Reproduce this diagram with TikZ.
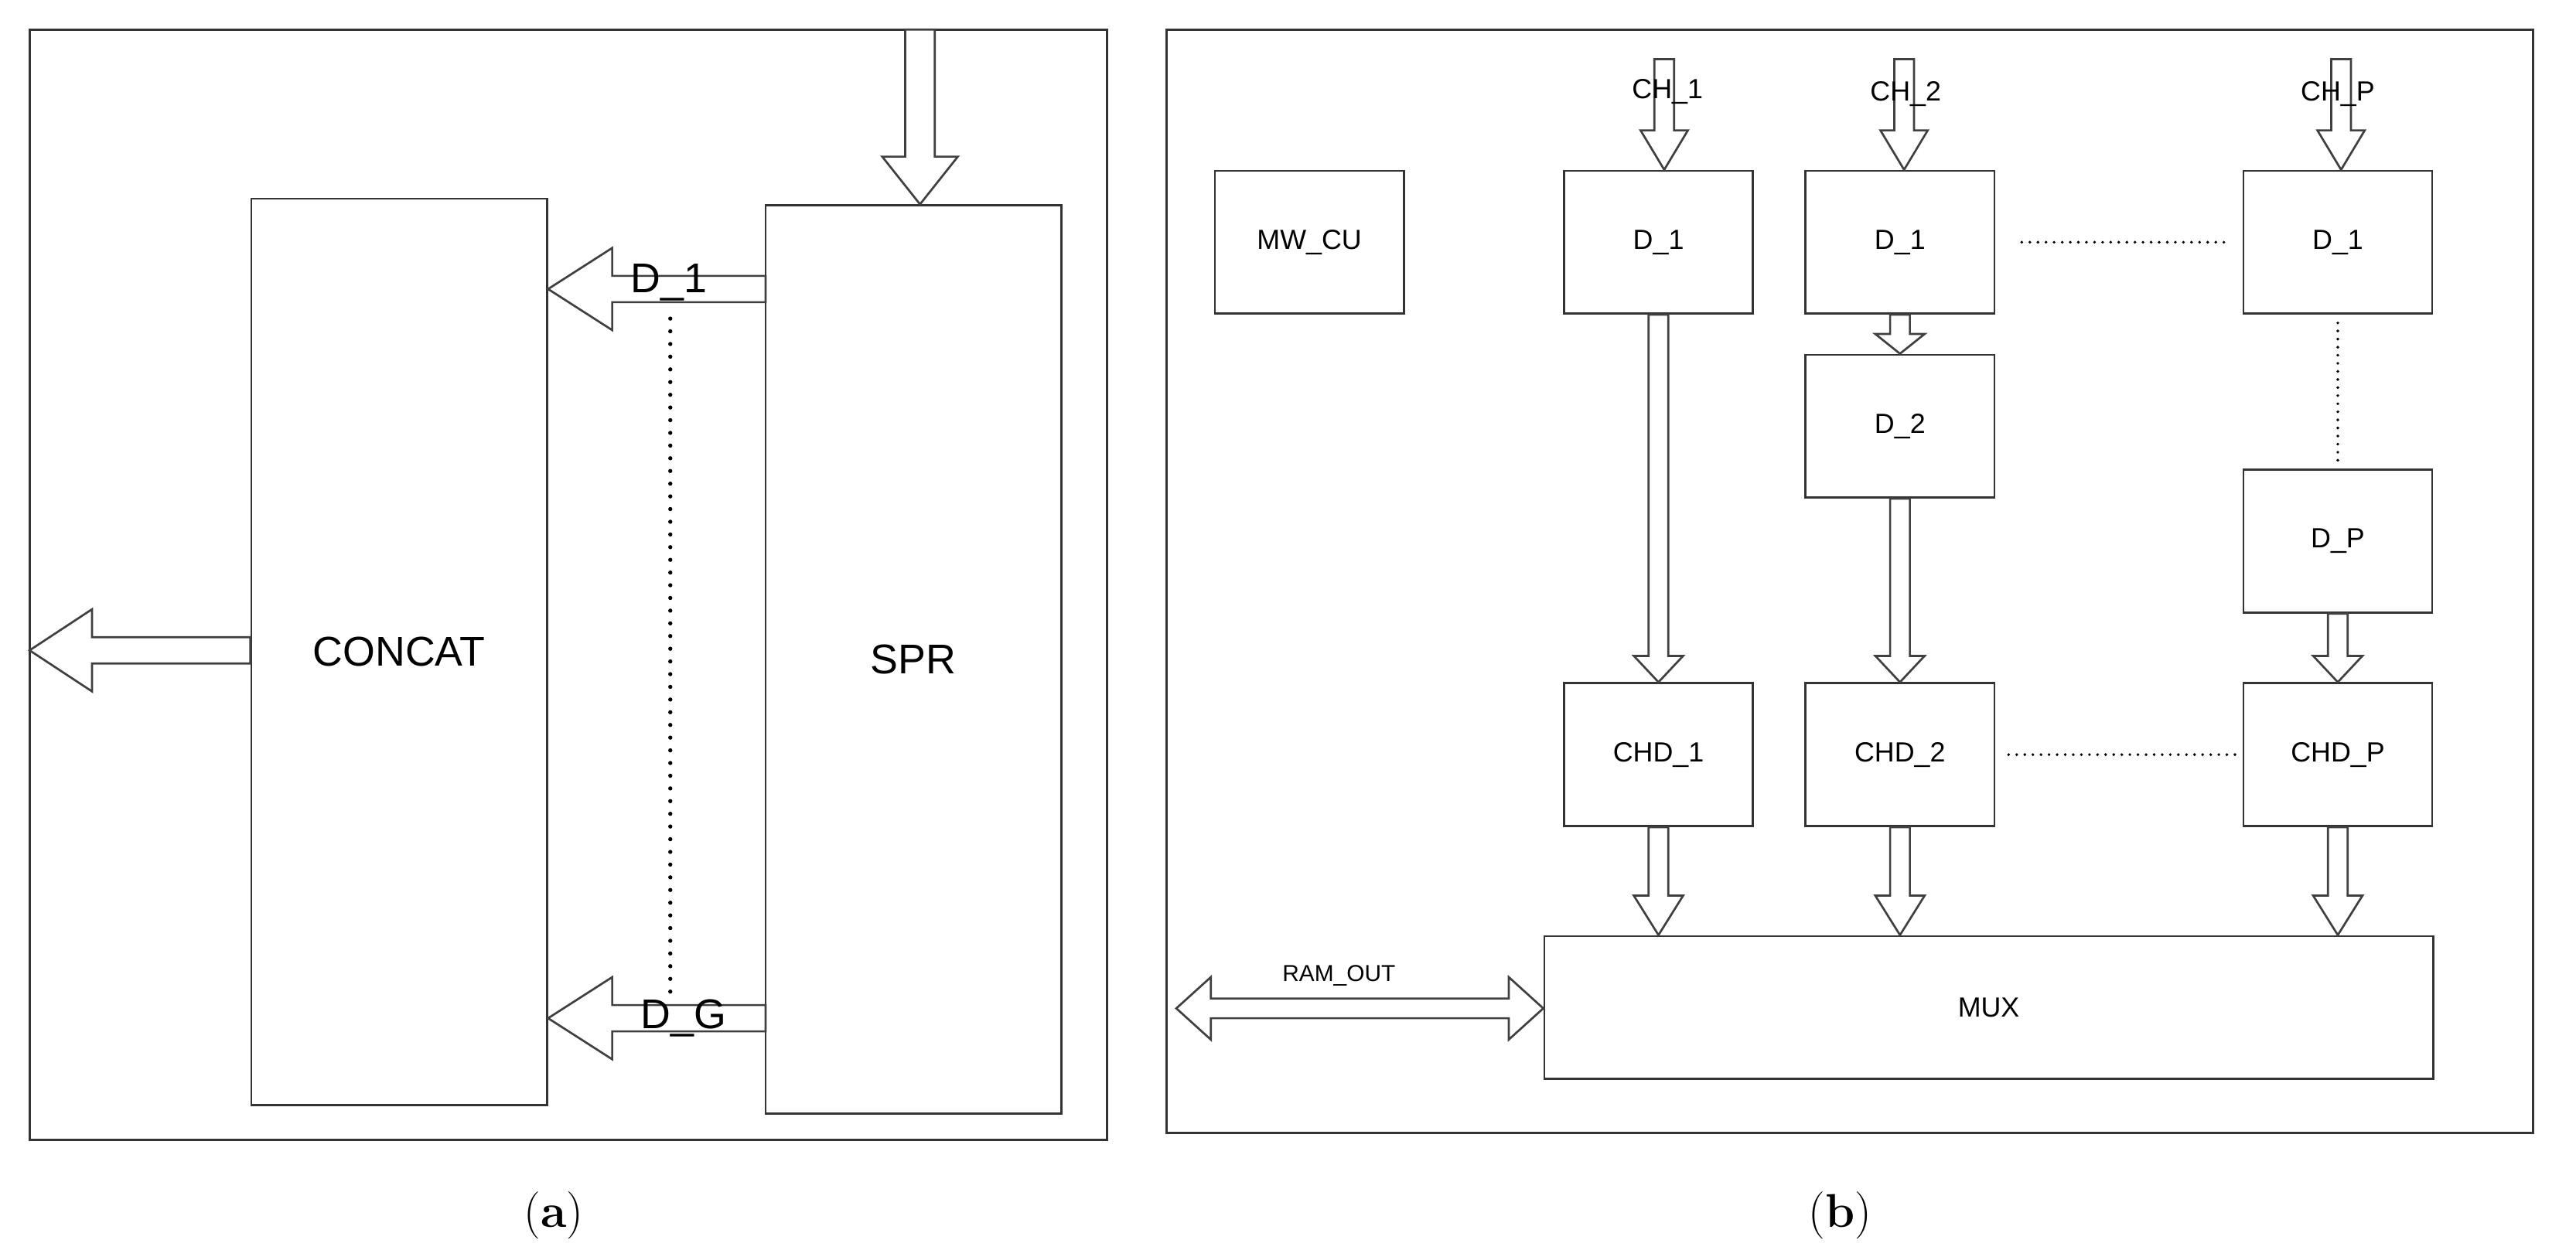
\documentclass[tikz,border=0pt]{standalone}
\usepackage{fontspec}
\setsansfont{Liberation Sans}
\usetikzlibrary{calc}
\tikzset{
  frame/.style={draw=black!80, line width=2pt},
  blk/.style={draw=black!80, line width=1.8pt, fill=white, font=\sffamily\fontsize{24}{26}\selectfont},
  bigblk/.style={blk, font=\sffamily\fontsize{36}{40}\selectfont},
  barrow/.style={draw=black!75, line width=1.8pt, fill=white},
  dots/.style={line width=3.6pt, dash pattern=on 0pt off 11pt, line cap=round},
  sdots/.style={line width=2.6pt, dash pattern=on 0pt off 7pt, line cap=round},
  lbl/.style={font=\sffamily\fontsize{24}{26}\selectfont},
  biglbl/.style={font=\sffamily\fontsize{36}{40}\selectfont},
  captxt/.style={font=\fontsize{41}{45}\selectfont}
}
% single block arrow: from, to, half shaft, half head, head length
\newcommand\barrow[5]{%
  \coordinate (ba) at (#1); \coordinate (bb) at (#2);
  \coordinate (bh) at ($(bb)!#5!(ba)$);
  \draw[barrow] ($(ba)!#3!90:(bb)$) -- ($(bh)!#3!-90:(ba)$) -- ($(bh)!#4!-90:(ba)$) -- (bb)
     -- ($(bh)!#4!90:(ba)$) -- ($(bh)!#3!90:(ba)$) -- ($(ba)!#3!-90:(bb)$) -- cycle;}
% double block arrow
\newcommand\dbarrow[5]{%
  \coordinate (ba) at (#1); \coordinate (bb) at (#2);
  \coordinate (bh) at ($(bb)!#5!(ba)$); \coordinate (bg) at ($(ba)!#5!(bb)$);
  \draw[barrow] (ba) -- ($(bg)!#4!90:(bb)$) -- ($(bg)!#3!90:(bb)$) -- ($(bh)!#3!-90:(ba)$) -- ($(bh)!#4!-90:(ba)$) -- (bb)
     -- ($(bh)!#4!90:(ba)$) -- ($(bh)!#3!90:(ba)$) -- ($(bg)!#3!-90:(bb)$) -- ($(bg)!#4!-90:(bb)$) -- cycle;}
\begin{document}
\begin{tikzpicture}[x=0.05cm,y=-0.05cm]
\useasboundingbox[fill=white] (0,0) rectangle (1568,765);
% ---------- panel (a)
\draw[frame] (18,18) rectangle (674,694);
\node[bigblk, minimum width=9cm, minimum height=27.6cm] (concat) at (243,397) {CONCAT};
\node[bigblk, minimum width=9cm, minimum height=27.65cm] (spr) at (556,401.5) {SPR};
\coordinate (ina) at (560,18);
\barrow{ina}{spr.north -| ina}{0.45cm}{1.15cm}{1.45cm}
\coordinate (d1s) at (466,176); \coordinate (dgs) at (466,620);
\barrow{d1s}{concat.east |- d1s}{0.4cm}{1.25cm}{1.95cm}
\barrow{dgs}{concat.east |- dgs}{0.4cm}{1.25cm}{1.95cm}
\node[biglbl] (ld1) at (407,172) {D\_1};
\node[biglbl] (ldg) at (416,620) {D\_G};
\draw[dots] (408,194) -- (408,606);
\coordinate (outa) at (18,396);
\barrow{concat.west |- outa}{outa}{0.4cm}{1.25cm}{1.9cm}
\node[captxt] (capa) at (337,740) {(\textbf{a})};
% ---------- panel (b)
\draw[frame] (710,18) rectangle (1542,690);
\tikzset{bb/.style={blk, minimum width=5.75cm, minimum height=4.35cm}}
\node[bb] (mwcu) at (797,147.5) {MW\_CU};
\node[bb] (d11) at (1009.5,147.5) {D\_1};
\node[bb] (d12) at (1156.5,147.5) {D\_1};
\node[bb] (d13) at (1423,147.5) {D\_1};
\node[bb] (d2) at (1156.5,259.5) {D\_2};
\node[bb] (dp) at (1423,329.5) {D\_P};
\node[bb] (chd1) at (1009.5,459.5) {CHD\_1};
\node[bb] (chd2) at (1156.5,459.5) {CHD\_2};
\node[bb] (chdp) at (1423,459.5) {CHD\_P};
\node[blk, minimum width=27.05cm, minimum height=4.35cm] (mux) at (1210.5,613.5) {MUX};
% inputs
\coordinate (c1) at (1013,36); \coordinate (c2) at (1159,36); \coordinate (cp) at (1425,36);
\barrow{c1}{d11.north -| c1}{0.3cm}{0.72cm}{1.2cm}
\barrow{c2}{d12.north -| c2}{0.3cm}{0.72cm}{1.2cm}
\barrow{cp}{d13.north -| cp}{0.3cm}{0.72cm}{1.2cm}
\node[lbl] (lc1) at (1015,56) {CH\_1};
\node[lbl] (lc2) at (1160,57) {CH\_2};
\node[lbl] (lcp) at (1423,57) {CH\_P};
% vertical arrows
\barrow{d11.south}{chd1.north}{0.3cm}{0.75cm}{0.8cm}
\barrow{d12.south}{d2.north}{0.3cm}{0.75cm}{0.6cm}
\barrow{d2.south}{chd2.north}{0.3cm}{0.75cm}{0.8cm}
\barrow{dp.south}{chdp.north}{0.3cm}{0.75cm}{0.8cm}
\barrow{chd1.south}{mux.north -| chd1.south}{0.3cm}{0.75cm}{1.2cm}
\barrow{chd2.south}{mux.north -| chd2.south}{0.3cm}{0.75cm}{1.2cm}
\barrow{chdp.south}{mux.north -| chdp.south}{0.3cm}{0.75cm}{1.2cm}
% dotted
\draw[sdots] ($(d12.east)+(16,0)$) -- ($(d13.west)+(-10,0)$);
\draw[sdots] ($(chd2.east)+(8,0)$) -- ($(chdp.west)+(-4,0)$);
\draw[sdots] ($(d13.south)+(0,5)$) -- ($(dp.north)+(0,-3)$);
% RAM_OUT
\coordinate (ro) at (716,614);
\dbarrow{ro}{mux.west |- ro}{0.3cm}{0.95cm}{1.05cm}
\node[lbl, font=\sffamily\fontsize{20}{22}\selectfont] (lro) at (815,594) {RAM\_OUT};
\node[captxt] (capb) at (1120,740) {(\textbf{b})};
\end{tikzpicture}
\end{document}
